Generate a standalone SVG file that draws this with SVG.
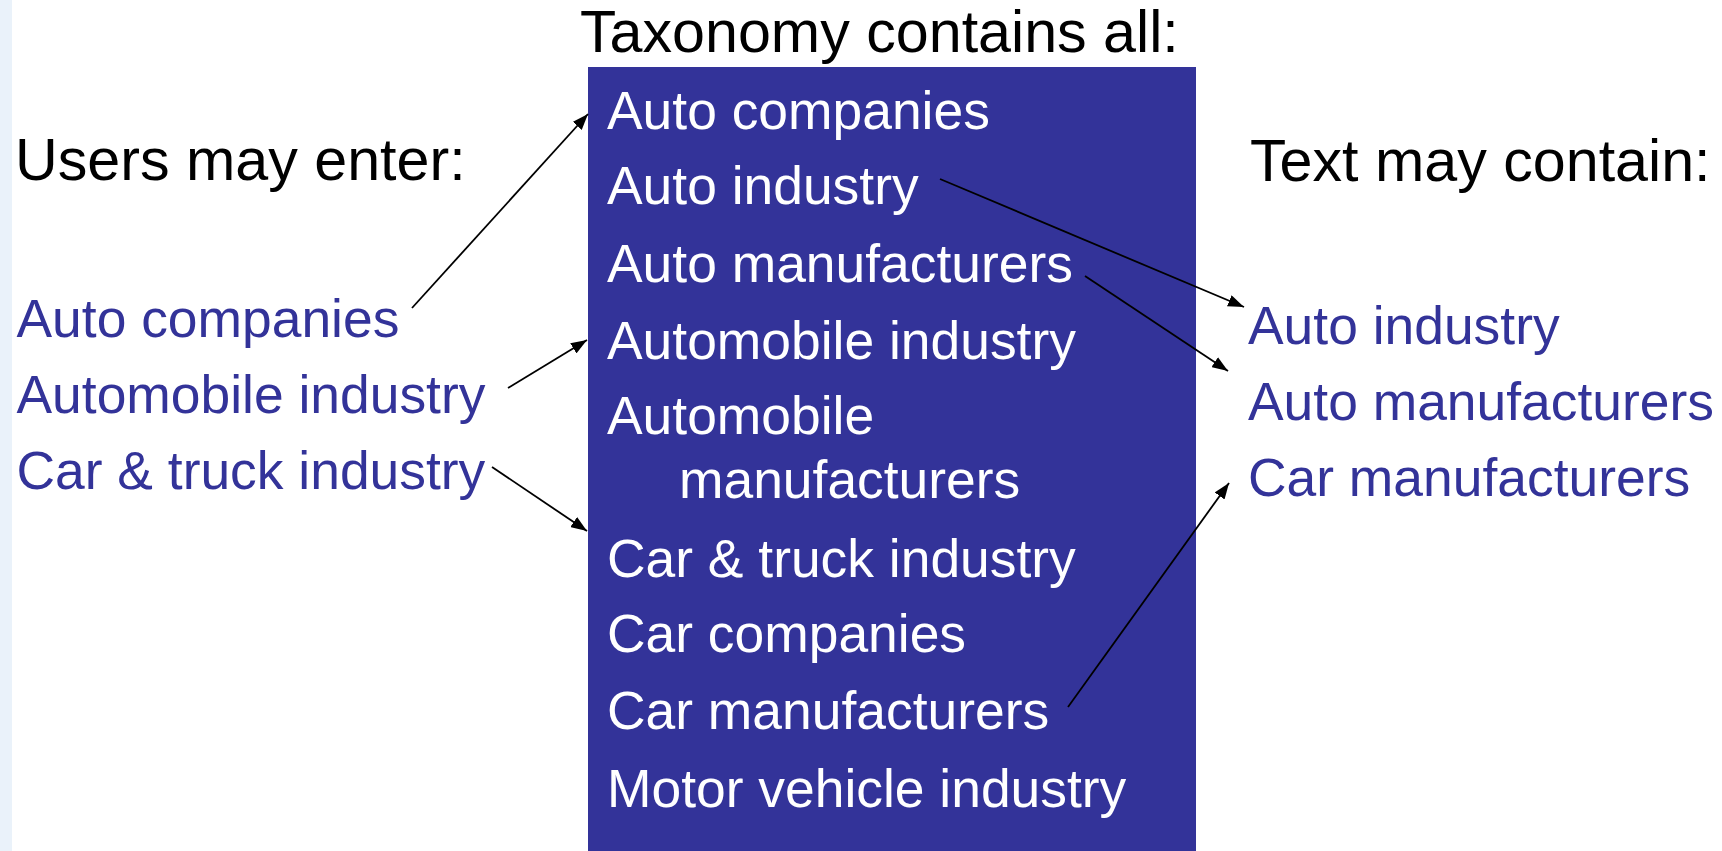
<svg xmlns="http://www.w3.org/2000/svg" width="1722" height="851" viewBox="0 0 1722 851">
<style>
text { font-family: "Liberation Sans", Arial, sans-serif; }
.head { font-size: 59.2px; fill: #000000; }
.item { font-size: 53.4px; }
.blue { fill: #333399; }
.white { fill: #ffffff; }
.conn { stroke: #000000; stroke-width: 1.8; fill: none; marker-end: url(#arrow); }
</style>
<defs>
<marker id="arrow" viewBox="0 0 16 12" refX="16" refY="6" markerWidth="16" markerHeight="12" markerUnits="userSpaceOnUse" orient="auto">
<path d="M0,0 L16,6 L0,12 z" fill="#000000"/>
</marker>
</defs>
<rect x="0" y="0" width="1722" height="851" fill="#ffffff"/>
<rect x="0" y="0" width="12" height="851" fill="#eaf2fa"/>

<g id="taxonomy">
<text class="head" x="580" y="52">Taxonomy contains all:</text>
<rect x="588" y="67" width="608" height="784" fill="#333399"/>
<g class="item white">
<text x="607" y="128.5">Auto companies</text>
<text x="607" y="204">Auto industry</text>
<text x="607" y="282">Auto manufacturers</text>
<text x="607" y="358.5">Automobile industry</text>
<text x="607" y="434">Automobile</text>
<text x="679" y="498">manufacturers</text>
<text x="607" y="577">Car &amp; truck industry</text>
<text x="607" y="652">Car companies</text>
<text x="607" y="728.5">Car manufacturers</text>
<text x="607" y="807">Motor vehicle industry</text>
</g>
</g>

<g id="users">
<text class="head" x="15" y="180">Users may enter:</text>
<g class="item blue">
<text x="16.5" y="336.5">Auto companies</text>
<text x="16.5" y="413">Automobile industry</text>
<text x="16.5" y="489">Car &amp; truck industry</text>
</g>
</g>

<g id="text-contains">
<text class="head" x="1250" y="181">Text may contain:</text>
<g class="item blue">
<text x="1248" y="344">Auto industry</text>
<text x="1248" y="420">Auto manufacturers</text>
<text x="1248" y="496">Car manufacturers</text>
</g>
</g>

<g id="connectors">
<line class="conn" x1="412" y1="308" x2="588" y2="114"/>
<line class="conn" x1="508" y1="388" x2="587" y2="340"/>
<line class="conn" x1="492" y1="467" x2="587" y2="531"/>
<line class="conn" x1="940" y1="179" x2="1244" y2="307"/>
<line class="conn" x1="1085" y1="276" x2="1228" y2="371"/>
<line class="conn" x1="1068" y1="707" x2="1229" y2="483"/>
</g>
</svg>
